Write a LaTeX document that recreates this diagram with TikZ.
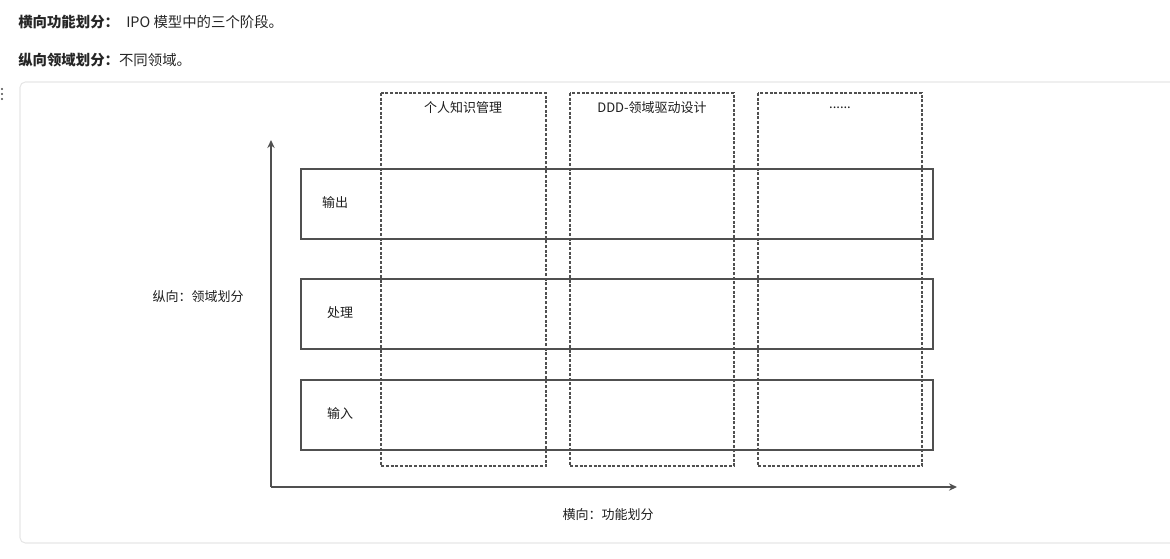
\documentclass[tikz,border=0pt]{standalone}
\usepackage{fontspec}
\setmainfont{Noto Sans CJK SC}
\usetikzlibrary{arrows.meta}
\definecolor{ink}{HTML}{505050}
\definecolor{txt}{HTML}{1E1E1E}
\definecolor{frame}{HTML}{E6E6E6}
\tikzset{
  axis/.style={draw=ink, line width=1.9pt, -{Stealth[length=6pt,width=5.5pt]}},
  rowbox/.style={draw=ink, line width=1.6pt},
  colbox/.style={draw=ink, line width=1.6pt, dash pattern=on 2.2pt off 1.3pt},
  sketch/.style={text=txt, font=\fontsize{9.75}{11}\selectfont, inner sep=0pt},
  head/.style={text=black!85, font=\fontsize{10.8}{12}\selectfont, anchor=west, inner sep=0pt}
}
\begin{document}
\begin{tikzpicture}[x=0.75pt, y=-0.75pt]
    \useasboundingbox (0,0) rectangle (1170,558);
    % Header lines
    \node[head] (hline) at (18,22) {{\bfseries 横向功能划分：}\enspace IPO 模型中的三个阶段。};
    \node[head] (vline) at (18,60) {{\bfseries 纵向领域划分：}不同领域。};
    % Drag handle
    \foreach \y in {89,94,99} \fill[black!70] (2,\y) circle (1.1);
    % Canvas frame
    \draw[frame, line width=0.8pt, rounded corners=4pt] (20,82) rectangle (1190,543);
    % Columns
    \draw[colbox] (381,93) rectangle (546,466);
    \draw[colbox] (570,93) rectangle (734,466);
    \draw[colbox] (758,93) rectangle (922,466);
    \node[sketch] (pkm) at (463,108) {个人知识管理};
    \node[sketch] (ddd) at (652,108) {DDD-领域驱动设计};
    \node[sketch] (more) at (840,108) {......};
    % Rows
    \draw[rowbox] (301,169) rectangle (933,239);
    \draw[rowbox] (301,279) rectangle (933,349);
    \draw[rowbox] (301,380) rectangle (933,450);
    \node[sketch] (output) at (335,203) {输出};
    \node[sketch] (process) at (340,313) {处理};
    \node[sketch] (input) at (340,414) {输入};
    % Axes
    \coordinate (origin) at (271,487);
    \coordinate (ytip) at (271,140);
    \coordinate (xtip) at (957,487);
    \draw[axis] (origin) -- (ytip);
    \draw[axis] (origin) -- (xtip);
    \node[sketch] (vlabel) at (198,297) {纵向：领域划分};
    \node[sketch] (hlabel) at (608,515) {横向：功能划分};
\end{tikzpicture}
\end{document}
